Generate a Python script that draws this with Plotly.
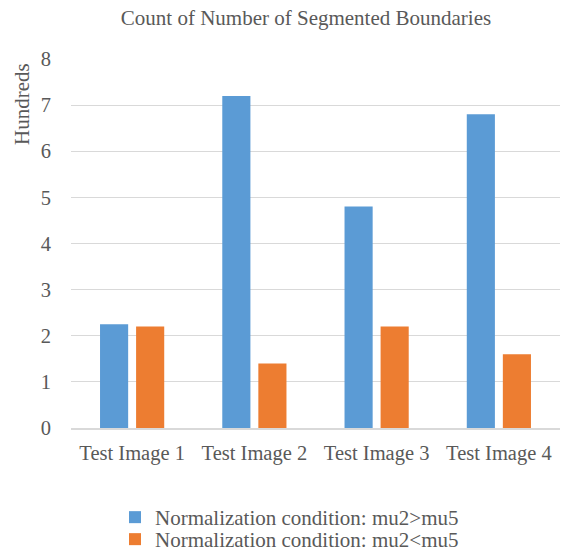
import plotly.graph_objects as go

categories = ["Test Image 1", "Test Image 2", "Test Image 3", "Test Image 4"]
series_gt = [2.25, 7.2, 4.8, 6.8]   # hundreds
series_lt = [2.2, 1.4, 2.2, 1.6]    # hundreds
name_gt = "Normalization condition: mu2>mu5"
name_lt = "Normalization condition: mu2<mu5"
y_ticks = [0, 1, 2, 3, 4, 5, 6, 7, 8]

FONT = "Liberation Serif, Times New Roman, serif"
TXT = "#595959"
W, H = 569, 553
ML, MR, MT, MB = 71, 9, 59, 125

fig = go.Figure()
fig.add_trace(go.Bar(x=categories, y=series_gt, name=name_gt, legend="legend",
                     marker=dict(color="#5B9BD5", line=dict(width=0))))
fig.add_trace(go.Bar(x=categories, y=series_lt, name=name_lt, legend="legend2",
                     marker=dict(color="#ED7D31", line=dict(width=0))))

fig.add_annotation(text="Hundreds", textangle=-90, showarrow=False,
                   xref="paper", yref="paper",
                   x=(22 - ML) / (W - ML - MR), y=(H - MB - 104) / (H - MT - MB),
                   xanchor="center", yanchor="middle",
                   font=dict(family=FONT, size=21, color=TXT))

leg_common = dict(orientation="v", xanchor="left", xref="container",
                  yanchor="top", yref="container",
                  font=dict(family=FONT, size=21, color=TXT),
                  itemwidth=30, bgcolor="rgba(0,0,0,0)")

fig.update_layout(
    width=W, height=H,
    paper_bgcolor="white", plot_bgcolor="white",
    font=dict(family=FONT, color=TXT, size=21),
    title=dict(text="Count of Number of Segmented Boundaries",
               x=306 / W, xanchor="center", y=1 - 18 / H, yanchor="middle",
               font=dict(family=FONT, size=21, color=TXT)),
    barmode="group", bargap=0.41, bargroupgap=0.22,
    margin=dict(l=ML, r=MR, t=MT, b=MB, autoexpand=False),
    showlegend=True,
    legend=dict(x=115 / W, y=1 - 497 / H, **leg_common),
    legend2=dict(x=115 / W, y=1 - 519 / H, **leg_common),
    xaxis=dict(showgrid=False, showline=True, linecolor="#D9D9D9", linewidth=1.5,
               ticks="", tickfont=dict(size=20.5, color=TXT), automargin=False,
               ticklabelstandoff=6),
    yaxis=dict(range=[0, 8], tickvals=y_ticks, showgrid=True, gridcolor="#D9D9D9",
               gridwidth=1, zeroline=False, showline=False, ticks="",
               tickfont=dict(size=20.5, color=TXT), ticklabelstandoff=19,
               automargin=False),
)

fig.write_html("out.html", config={"displayModeBar": False},
               post_script="document.body.style.margin='0';")
